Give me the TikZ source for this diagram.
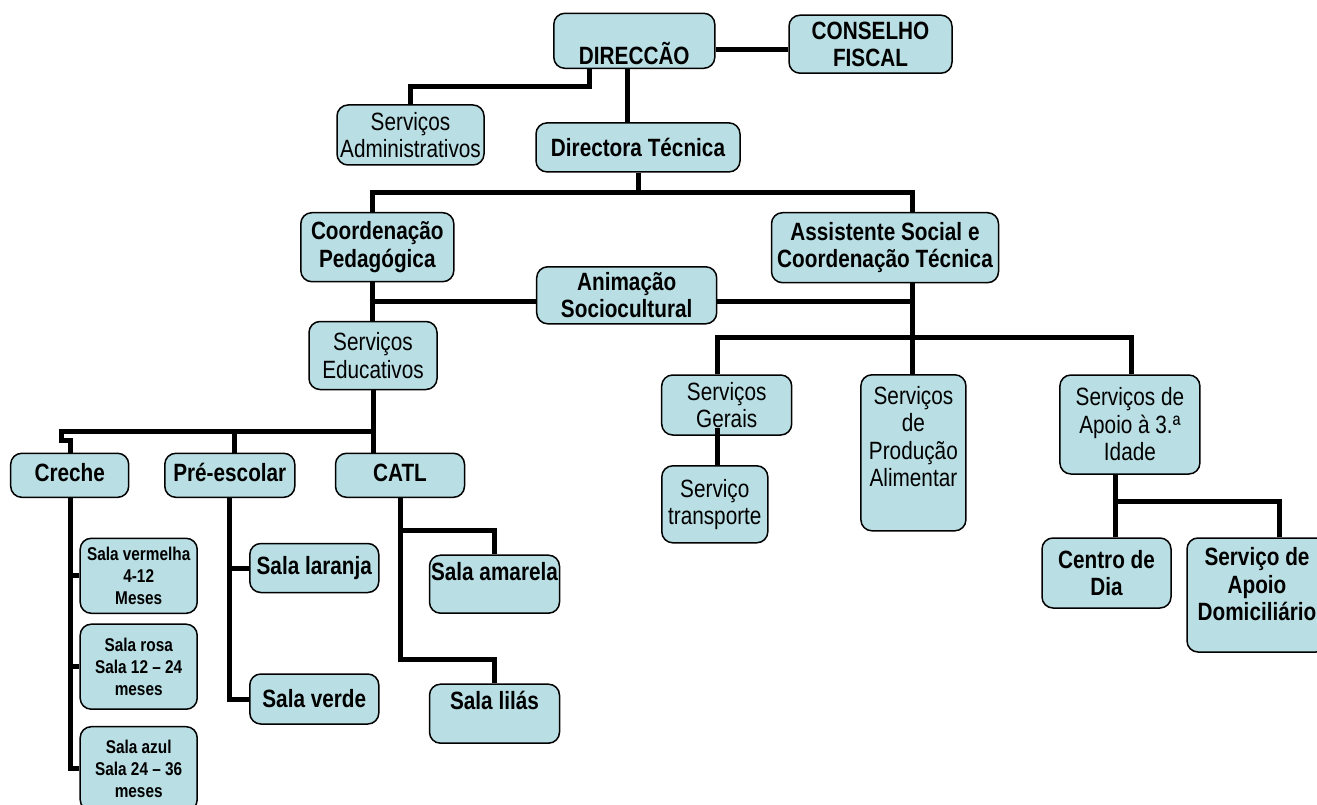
\documentclass[tikz,border=0pt]{standalone}
\usepackage{fontspec}
\setmainfont{Liberation Sans}[FakeStretch=0.83]
\usetikzlibrary{calc}
\definecolor{boxfill}{RGB}{185,223,228}

\tikzset{
  box/.style={draw, line width=1.5pt, rounded corners=11pt, fill=boxfill,
    align=center, inner sep=0pt, font={\fontsize{25}{27.5}\selectfont}},
  bbox/.style={box, font={\fontsize{25}{27.5}\selectfont\bfseries}},
  sbox/.style={box, font={\fontsize{18.5}{22}\selectfont\bfseries}},
  wh/.style 2 args={minimum width=#1pt, minimum height=#2pt},
  conn/.style={line width=5pt}
}

\begin{document}
\begin{tikzpicture}[x=1pt, y=-1pt]
        \useasboundingbox (0,0) rectangle (1317,805);
        % Direction
        \node[bbox, wh={161}{55}, text height=48pt, text depth=0pt] (dir) at (634.3,40.8) {DIRECCÃO};
        \node[bbox, wh={163}{58}] (cf) at (870.5,44.2) {CONSELHO\\FISCAL};
        \node[box, wh={147}{60}] (sa) at (410.5,135) {Serviços\\Administrativos};
        \node[bbox, wh={204}{49}] (dt) at (638,147.4) {Directora Técnica};
        % Coordination
        \node[bbox, wh={153}{69}] (cp) at (377.3,247.2) {Coordenação\\Pedagógica};
        \node[bbox, wh={227}{70}] (as) at (885,247.7) {Assistente Social e\\Coordenação Técnica};
        \node[bbox, wh={180}{57}] (an) at (626.7,295.3) {Animação\\Sociocultural};
        \node[box, wh={128}{68}] (se) at (373,355.5) {Serviços\\Educativos};
        % Services
        \node[box, wh={130}{60}] (sg) at (726.7,405) {Serviços\\Gerais};
        \node[box, wh={106}{77}] (st) at (714.8,504.3) {Serviço\\transporte};
        \node[box, wh={105}{156}] (pa) at (913.4,452.8) {Serviços\\de\\Produção\\Alimentar\\[5pt]\mbox{}};
        \node[box, wh={140}{99}] (ai) at (1129.9,424.5) {Serviços de\\Apoio à 3.ª\\Idade};
        \node[bbox, wh={129}{70}] (cd) at (1106.5,573) {Centro de\\Dia};
        \node[bbox, wh={140}{114}] (ad) at (1257,595) {Serviço de\\Apoio\\Domiciliário\\[-6pt]\mbox{}};
        % Education
        \node[bbox, wh={118}{44}, text depth=6pt] (cr) at (69.7,475.3) {Creche};
        \node[bbox, wh={130}{44}, text depth=6pt] (pe) at (229.8,475.3) {Pré-escolar};
        \node[bbox, wh={129}{44}, text depth=6pt] (ca) at (400,475.3) {CATL};
        \node[sbox, wh={117}{75}] (sv) at (138.7,575.8) {Sala vermelha\\4-12\\Meses};
        \node[sbox, wh={117}{85}] (sr) at (138.7,666.7) {Sala rosa\\Sala 12 – 24\\meses};
        \node[sbox, wh={117}{84}] (sz) at (138.7,768.7) {Sala azul\\Sala 24 – 36\\meses};
        \node[bbox, wh={129}{49}] (sl) at (314.3,568) {Sala laranja};
        \node[bbox, wh={129}{50}] (sverde) at (314.3,699) {Sala verde};
        \node[bbox, wh={130}{58}, text depth=26pt] (sam) at (494.5,584.2) {Sala amarela};
        \node[bbox, wh={130}{59}, text depth=26pt] (slil) at (494.5,713.7) {Sala lilás};
        % Junctions
        \coordinate (jdc) at (750,50);
        \coordinate (jsa) at (589,87);
        \coordinate (jdt) at (627,100);
        \coordinate (b1l) at (372,193);
        \coordinate (b1r) at (912,193);
        \coordinate (b2l) at (372,301.5);
        \coordinate (b2r) at (912,301.5);
        \coordinate (b3l) at (717,337);
        \coordinate (b3r) at (1131,337);
        \coordinate (b4l) at (1115,501.7);
        \coordinate (b4r) at (1279,501.7);
        \coordinate (b5r) at (373,431.7);
        \coordinate (b5l) at (61,431.7);
        \coordinate (b5j) at (70,440);
        \coordinate (b5p) at (234,431.7);
        \coordinate (ca1) at (400,530);
        \coordinate (ca2) at (400,659.3);
        % Top links
        \draw[conn] (dir.east |- jdc) -- (cf.west |- jdc);
        \draw[conn] (dir.south -| jsa) -- (jsa) -| (sa.north);
        \draw[conn] (dir.south -| jdt) -- (dt.north -| jdt);
        \draw[conn] (dt.south) -- (dt.south |- b1l);
        \draw[conn] (cp.north -| b1l) -- (b1l) -- (b1r) -- (as.north -| b1r);
        \draw[conn] (cp.south -| b1l) -- (se.north -| b1l);
        \draw[conn] (b2l) -- (an.west |- b2l);
        \draw[conn] (an.east |- b2r) -- (b2r);
        % Right links
        \draw[conn] (as.south -| b2r) -- (pa.north -| b2r);
        \draw[conn] (sg.north -| b3l) -- (b3l) -- (b3r) -- (ai.north -| b3r);
        \draw[conn] ($(sg.south -| b3l)+(0,-8)$) -- (st.north -| b3l);
        \draw[conn] (ai.south -| b4l) -- (cd.north -| b4l);
        \draw[conn] (b4l) -- (b4r) -- (ad.north -| b4r);
        % Left links
        \draw[conn] (se.south -| b5r) -- (ca.north -| b5r);
        \draw[conn] (b5r) -- (b5l) |- (b5j) -- (cr.north -| b5j);
        \draw[conn] (b5p) -- (pe.north -| b5p);
        \draw[conn] (cr.south -| b5j) |- (sz.west);
        \draw[conn] (sv.west) -- (sv.west -| b5j);
        \draw[conn] (sr.west) -- (sr.west -| b5j);
        \draw[conn] (pe.south) |- (sverde.west);
        \draw[conn] (sl.west) -- (sl.west -| pe.south);
        \draw[conn] (ca.south) -- (ca2) -| (slil.north);
        \draw[conn] (ca1) -| (sam.north);
\end{tikzpicture}
\end{document}
